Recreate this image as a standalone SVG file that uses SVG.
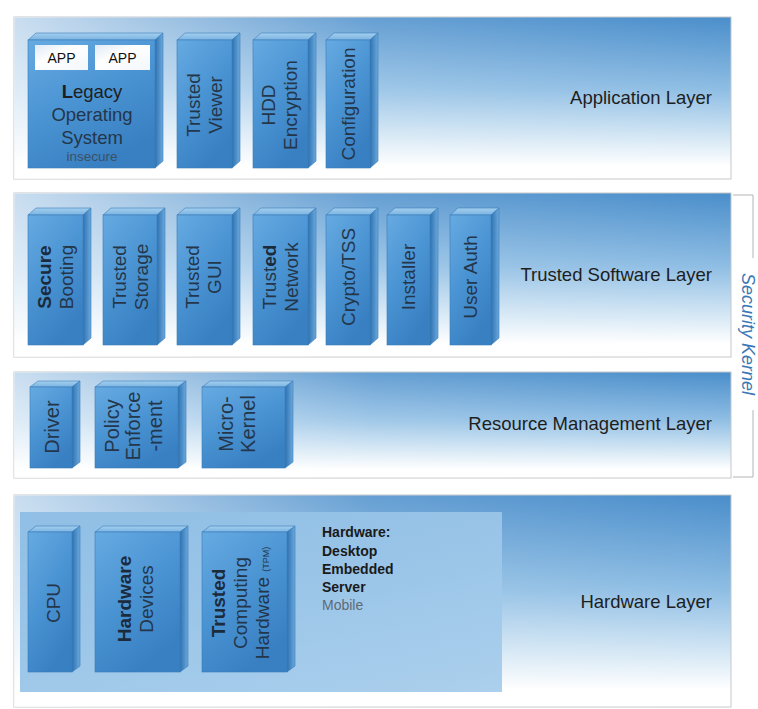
<svg xmlns="http://www.w3.org/2000/svg" width="758" height="709" viewBox="0 0 758 709">
  <defs>
    <!-- layer panel: blue at the top fading to white -->
    <linearGradient id="layerBg" x1="0" y1="0" x2="0" y2="1">
      <stop offset="0" stop-color="#4a8ecb"/>
      <stop offset="0.45" stop-color="#8fbee4"/>
      <stop offset="0.75" stop-color="#d6e8f5"/>
      <stop offset="0.92" stop-color="#ffffff"/>
    </linearGradient>
    <linearGradient id="layerFade" x1="0" y1="0" x2="1" y2="0">
      <stop offset="0" stop-color="#ffffff" stop-opacity="0.7"/>
      <stop offset="0.5" stop-color="#ffffff" stop-opacity="0.15"/>
      <stop offset="1" stop-color="#ffffff" stop-opacity="0"/>
    </linearGradient>
    <!-- block faces -->
    <linearGradient id="front" x1="0" y1="0" x2="0.5" y2="1">
      <stop offset="0" stop-color="#66aae1"/>
      <stop offset="0.5" stop-color="#4c95d4"/>
      <stop offset="1" stop-color="#3880c2"/>
    </linearGradient>
    <linearGradient id="side" x1="0" y1="0" x2="1" y2="0">
      <stop offset="0" stop-color="#2f72b3"/>
      <stop offset="1" stop-color="#6ba9dc"/>
    </linearGradient>
    <linearGradient id="top" x1="0" y1="1" x2="0" y2="0">
      <stop offset="0" stop-color="#7ab4e2"/>
      <stop offset="1" stop-color="#a4cfee"/>
    </linearGradient>
    <linearGradient id="app" x1="0" y1="0" x2="1" y2="1">
      <stop offset="0" stop-color="#dfeaf5"/>
      <stop offset="0.4" stop-color="#ffffff"/>
      <stop offset="1" stop-color="#f2f7fb"/>
    </linearGradient>
    <linearGradient id="hwPanel" x1="0" y1="0" x2="1" y2="1">
      <stop offset="0" stop-color="#8dbde4"/>
      <stop offset="1" stop-color="#a7cdec"/>
    </linearGradient>
  </defs>
  <style>
    .layer { stroke: #c4c8cc; stroke-width: 1; }
    .fade { stroke: none; }
    .f { fill: url(#front); stroke: #3a7cba; stroke-width: 0.6; }
    .s { fill: url(#side); stroke: #3a7cba; stroke-width: 0.6; }
    .t { fill: url(#top); stroke: #3a7cba; stroke-width: 0.6; }
    text { font-family: "Liberation Sans", Arial, sans-serif; }
    .lbl { font-size: 19px; fill: #24364a; text-anchor: middle; }
    .lbl3 { font-size: 20px; fill: #24364a; text-anchor: middle; }
    .b { font-weight: bold; fill: #1c2b3b; }
    .layerName { font-size: 18.5px; fill: #1e1e1e; text-anchor: end; }
    .app { font-size: 14px; fill: #111111; text-anchor: middle; }
    .hw { font-size: 14px; font-weight: bold; fill: #1a1a1a; }
    .sk { font-size: 18px; font-style: italic; fill: #3a78b5; text-anchor: middle; }
    .bracket { fill: none; stroke: #b4b4b4; stroke-width: 1; }
  </style>

  <rect width="758" height="709" fill="#ffffff"/>

  <!-- ===== Application Layer ===== -->
  <g id="application-layer">
    <rect class="layer" x="14" y="17" width="717" height="162" fill="url(#layerBg)"/>
    <rect class="fade" x="14" y="17" width="717" height="162" fill="url(#layerFade)"/>
    <text class="layerName" x="712" y="104">Application Layer</text>
  </g>
  <g id="legacy-os">
    <polygon class="t" points="28,40 155,40 163,33 36,33"/>
    <polygon class="s" points="155,40 163,33 163,161 155,168"/>
    <rect class="f" x="28" y="40" width="127" height="128"/>
    <rect x="35" y="45" width="53" height="25" fill="url(#app)"/>
    <rect x="95" y="45" width="55" height="25" fill="url(#app)"/>
    <text class="app" x="61.5" y="63">APP</text>
    <text class="app" x="122.5" y="63">APP</text>
    <text class="lbl" x="92" y="98" style="font-size:18.5px;fill:#1e1e1e"><tspan font-weight="bold">L</tspan>egacy</text>
    <text class="lbl" x="92" y="121" style="font-size:18.5px">Operating</text>
    <text class="lbl" x="92" y="144" style="font-size:18.5px">System</text>
    <text class="lbl" x="92" y="161" style="font-size:13.5px;fill:#3c5066">insecure</text>
  </g>
  <g id="trusted-viewer">
    <polygon class="t" points="177,40 232,40 240,33 185,33"/>
    <polygon class="s" points="232,40 240,33 240,161 232,168"/>
    <rect class="f" x="177" y="40" width="55" height="128"/>
    <text class="lbl" transform="translate(204,105) rotate(-90)"><tspan x="0" y="-4.2">Trusted</tspan><tspan x="0" y="17.8">Viewer</tspan></text>
  </g>
  <g id="hdd-encryption">
    <polygon class="t" points="253,40 308,40 316,33 261,33"/>
    <polygon class="s" points="308,40 316,33 316,161 308,168"/>
    <rect class="f" x="253" y="40" width="55" height="128"/>
    <text class="lbl" transform="translate(279,105) rotate(-90)"><tspan x="0" y="-4.2">HDD</tspan><tspan x="0" y="17.8">Encryption</tspan></text>
  </g>
  <g id="configuration">
    <polygon class="t" points="326,40 370,40 378,33 334,33"/>
    <polygon class="s" points="370,40 378,33 378,161 370,168"/>
    <rect class="f" x="326" y="40" width="44" height="128"/>
    <text class="lbl" transform="translate(348,104) rotate(-90)"><tspan x="0" y="6.8">Configuration</tspan></text>
  </g>

  <!-- ===== Trusted Software Layer ===== -->
  <g id="trusted-software-layer">
    <rect class="layer" x="14" y="193" width="717" height="164" fill="url(#layerBg)"/>
    <rect class="fade" x="14" y="193" width="717" height="164" fill="url(#layerFade)"/>
    <text class="layerName" x="712" y="281">Trusted Software Layer</text>
  </g>
  <g id="secure-booting">
    <polygon class="t" points="28,215 83,215 91,208 36,208"/>
    <polygon class="s" points="83,215 91,208 91,338 83,345"/>
    <rect class="f" x="28" y="215" width="55" height="130"/>
    <text class="lbl" transform="translate(55,277) rotate(-90)"><tspan x="0" y="-4.2" class="b">Secure</tspan><tspan x="0" y="17.8">Booting</tspan></text>
  </g>
  <g id="trusted-storage">
    <polygon class="t" points="103,215 157,215 165,208 111,208"/>
    <polygon class="s" points="157,215 165,208 165,338 157,345"/>
    <rect class="f" x="103" y="215" width="54" height="130"/>
    <text class="lbl" transform="translate(130,277) rotate(-90)"><tspan x="0" y="-4.2">Trusted</tspan><tspan x="0" y="17.8">Storage</tspan></text>
  </g>
  <g id="trusted-gui">
    <polygon class="t" points="177,215 232,215 240,208 185,208"/>
    <polygon class="s" points="232,215 240,208 240,338 232,345"/>
    <rect class="f" x="177" y="215" width="55" height="130"/>
    <text class="lbl" transform="translate(203,277) rotate(-90)"><tspan x="0" y="-4.2">Trusted</tspan><tspan x="0" y="17.8">GUI</tspan></text>
  </g>
  <g id="trusted-network">
    <polygon class="t" points="253,215 308,215 316,208 261,208"/>
    <polygon class="s" points="308,215 316,208 316,338 308,345"/>
    <rect class="f" x="253" y="215" width="55" height="130"/>
    <text class="lbl" transform="translate(280,277) rotate(-90)"><tspan x="0" y="-4.2">Trust<tspan class="b">ed</tspan></tspan><tspan x="0" y="17.8">Network</tspan></text>
  </g>
  <g id="crypto-tss">
    <polygon class="t" points="326,215 370,215 378,208 334,208"/>
    <polygon class="s" points="370,215 378,208 378,338 370,345"/>
    <rect class="f" x="326" y="215" width="44" height="130"/>
    <text class="lbl" transform="translate(348,277) rotate(-90)"><tspan x="0" y="6.8">Crypto/TSS</tspan></text>
  </g>
  <g id="installer">
    <polygon class="t" points="387,215 430,215 438,208 395,208"/>
    <polygon class="s" points="430,215 438,208 438,338 430,345"/>
    <rect class="f" x="387" y="215" width="43" height="130"/>
    <text class="lbl" transform="translate(408,277) rotate(-90)"><tspan x="0" y="6.8">Installer</tspan></text>
  </g>
  <g id="user-auth">
    <polygon class="t" points="450,215 491,215 499,208 458,208"/>
    <polygon class="s" points="491,215 499,208 499,338 491,345"/>
    <rect class="f" x="450" y="215" width="41" height="130"/>
    <text class="lbl" transform="translate(470,277) rotate(-90)"><tspan x="0" y="6.8">User Auth</tspan></text>
  </g>

  <!-- ===== Resource Management Layer ===== -->
  <g id="resource-management-layer">
    <rect class="layer" x="14" y="372" width="717" height="106" fill="url(#layerBg)"/>
    <rect class="fade" x="14" y="372" width="717" height="106" fill="url(#layerFade)"/>
    <text class="layerName" x="712" y="430">Resource Management Layer</text>
  </g>
  <g id="driver">
    <polygon class="t" points="30,387 72,387 80,381 38,381"/>
    <polygon class="s" points="72,387 80,381 80,462 72,468"/>
    <rect class="f" x="30" y="387" width="42" height="81"/>
    <text class="lbl3" transform="translate(52,427) rotate(-90)"><tspan x="0" y="7">Driver</tspan></text>
  </g>
  <g id="policy-enforcement">
    <polygon class="t" points="95,387 178,387 186,381 103,381"/>
    <polygon class="s" points="178,387 186,381 186,462 178,468"/>
    <rect class="f" x="95" y="387" width="83" height="81"/>
    <text class="lbl3" transform="translate(133,426) rotate(-90)"><tspan x="0" y="-14.5">Policy</tspan><tspan x="0" y="7">Enforce</tspan><tspan x="0" y="28.5">-ment</tspan></text>
  </g>
  <g id="micro-kernel">
    <polygon class="t" points="202,387 285,387 293,381 210,381"/>
    <polygon class="s" points="285,387 293,381 293,462 285,468"/>
    <rect class="f" x="202" y="387" width="83" height="81"/>
    <text class="lbl3" transform="translate(237,424) rotate(-90)"><tspan x="0" y="-3.8">Micro-</tspan><tspan x="0" y="17.7">Kernel</tspan></text>
  </g>

  <!-- ===== Hardware Layer ===== -->
  <g id="hardware-layer">
    <rect class="layer" x="14" y="495" width="717" height="212" fill="url(#layerBg)"/>
    <rect class="fade" x="14" y="495" width="717" height="212" fill="url(#layerFade)"/>
    <rect x="20" y="512" width="482" height="180" fill="url(#hwPanel)" opacity="0.95"/>
    <text class="layerName" x="712" y="608">Hardware Layer</text>
    <text class="hw" x="322" y="537">Hardware:</text>
    <text class="hw" x="322" y="556">Desktop</text>
    <text class="hw" x="322" y="574">Embedded</text>
    <text class="hw" x="322" y="592">Server</text>
    <text class="hw" x="322" y="610" style="font-weight:normal;fill:#5e6a76">Mobile</text>
  </g>
  <g id="cpu">
    <polygon class="t" points="28,532 72,532 80,526 36,526"/>
    <polygon class="s" points="72,532 80,526 80,666 72,672"/>
    <rect class="f" x="28" y="532" width="44" height="140"/>
    <text class="lbl" transform="translate(53,603) rotate(-90)"><tspan x="0" y="6.8">CPU</tspan></text>
  </g>
  <g id="hardware-devices">
    <polygon class="t" points="95,532 180,532 188,526 103,526"/>
    <polygon class="s" points="180,532 188,526 188,666 180,672"/>
    <rect class="f" x="95" y="532" width="85" height="140"/>
    <text class="lbl" transform="translate(135,599) rotate(-90)"><tspan x="0" y="-4.2" class="b">Hardware</tspan><tspan x="0" y="17.8">Devices</tspan></text>
  </g>
  <g id="trusted-computing-hardware">
    <polygon class="t" points="202,532 287,532 295,526 210,526"/>
    <polygon class="s" points="287,532 295,526 295,666 287,672"/>
    <rect class="f" x="202" y="532" width="85" height="140"/>
    <text class="lbl" transform="translate(240,603) rotate(-90)"><tspan x="0" y="-15.2" class="b">Trusted</tspan><tspan x="0" y="6.8">Computing</tspan><tspan x="0" y="28.8">Hardware <tspan style="font-size:9px">(TPM)</tspan></tspan></text>
  </g>

  <!-- ===== Security Kernel bracket ===== -->
  <g id="security-kernel">
    <polyline class="bracket" points="733,195 753,195 753,258"/>
    <polyline class="bracket" points="753,410 753,477 733,477"/>
    <text class="sk" transform="translate(742,334) rotate(90)" x="0" y="0">Security Kernel</text>
  </g>
</svg>
